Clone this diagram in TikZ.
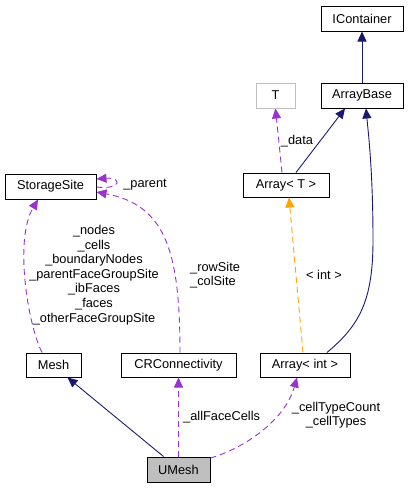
\documentclass[tikz,border=0pt]{standalone}
\usepackage{fontspec}
\setmainfont{Liberation Sans}
\usetikzlibrary{arrows.meta,calc}
\definecolor{dxnavy}{RGB}{25,25,112}
\definecolor{dxpurp}{RGB}{154,50,205}
\definecolor{dxorng}{RGB}{255,165,0}
\definecolor{dxgray}{RGB}{191,191,191}
\newcommand\dxfont{\fontsize{12.8}{14.6}\selectfont}
\begin{document}
\begin{tikzpicture}[x=1pt,y=-1pt,
  box/.style={draw=black,line width=1pt,fill=white,minimum height=25pt,inner sep=0pt,font=\dxfont},
  tip/.style={-{Triangle[length=10pt,width=9pt]}},
  inh/.style={draw=dxnavy,line width=0.9pt,tip},
  usage/.style={draw=dxpurp,line width=0.9pt,dash pattern=on 6pt off 4pt,tip},
  tmpl/.style={draw=dxorng,line width=0.9pt,dash pattern=on 6pt off 4pt,tip},
  lbl/.style={font=\dxfont,align=center,inner sep=0pt}]
\useasboundingbox (0,0) rectangle (409,488);
% nodes
\node[box,minimum width=82pt] (ic) at (362,18.5) {IContainer};
\node[box,minimum width=82pt] (ab) at (362,95.5) {ArrayBase};
\node[box,draw=dxgray,minimum width=39pt] (t) at (275.5,95.5) {T};
\node[box,minimum width=86pt,minimum height=24pt] (at) at (286,185) {Array< T >};
\node[box,minimum width=91pt] (ss) at (50.5,186.5) {StorageSite};
\node[box,minimum width=55pt,minimum height=24pt] (mesh) at (53.5,365) {Mesh};
\node[box,minimum width=115pt,minimum height=24pt] (crc) at (178.5,365) {CRConnectivity};
\node[box,minimum width=90pt,minimum height=24pt] (ai) at (305,365) {Array< int >};
\node[box,fill=dxgray,minimum width=63pt] (um) at (178.5,469.5) {UMesh};
% edges
\draw[inh] (ab.north) -- (ic.south);
\draw[inh] ($(at.north)+(10,0)$) -- ($(ab.south)+(-17,0)$);
\draw[inh] ($(ai.north)+(22,0)$) .. controls (360,325) and (373,300) .. (373,240)
  .. controls (373,170) and (368,130) .. ($(ab.south)+(4,0)$);
\draw[usage] ($(at.north)+(-4,0)$) -- (t.south);
\node[lbl] (ldata) at (297,141) {\_data};
\draw[tmpl] ($(ai.north)+(-2,0)$) -- ($(at.south)+(3,0)$);
\node[lbl] (lint) at (324,275) {< int >};
\draw[usage] ($(mesh.north)+(-11.5,0)$) .. controls (28,325) and (14,240) .. ($(ss.south)+(-12.5,0)$);
\node[lbl] (lmesh) at (94,275) {\_nodes\\\_cells\\\_boundaryNodes\\\_parentFaceGroupSite\\\_ibFaces\\\_faces\\\_otherFaceGroupSite};
\draw[usage] ($(crc.north)+(1.5,0)$) .. controls (180,250) and (165,205) .. ($(ss.east)+(0,5.5)$);
\node[lbl,align=left,anchor=west] (lrow) at (190,275) {\_rowSite\\\_colSite};
\draw[usage] ($(ss.east)+(0,0.5)$) .. controls (122,190) and (122,177) .. ($(ss.east)+(0,-7.5)$);
\node[lbl] (lpar) at (145,185) {\_parent};
\draw[inh] ($(um.north)+(-15,0)$) -- ($(mesh.south)+(14,0)$);
\draw[usage] (um.north) -- (crc.south);
\node[lbl,anchor=west] (lafc) at (183,417) {\_allFaceCells};
\draw[usage] ($(um.east)+(0,-11.5)$) .. controls (245,448) and (285,420) .. ($(ai.south)+(-8,0)$);
\node[lbl] (lct) at (336,415) {\_cellTypeCount\\\_cellTypes};
\end{tikzpicture}
\end{document}
